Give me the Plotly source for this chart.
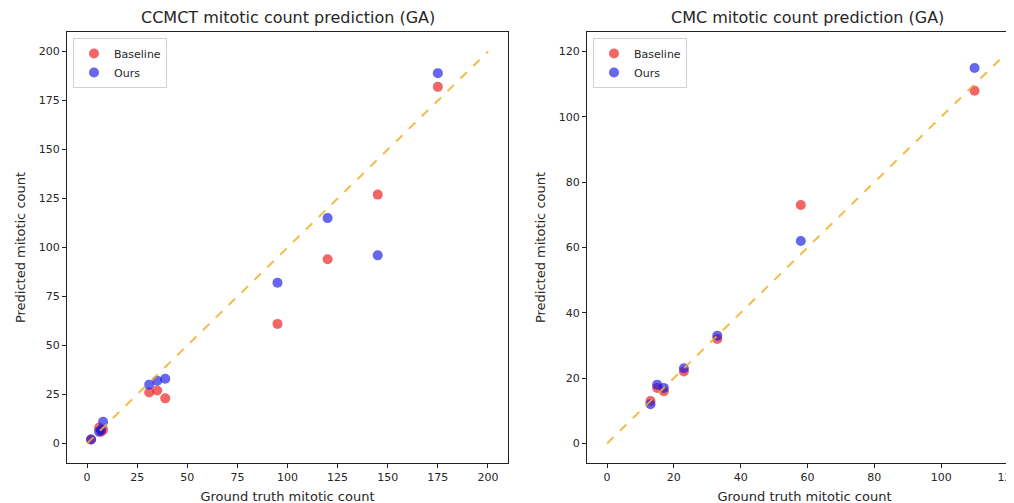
import plotly.graph_objects as go

# ---- Data ----
ccmct_truth = [2, 6, 7, 8, 31, 35, 39, 95, 120, 145, 175]
ccmct_baseline = [2, 8, 6, 7, 26, 27, 23, 61, 94, 127, 182]
ccmct_ours = [2, 6, 7, 11, 30, 32, 33, 82, 115, 96, 189]
ccmct_identity = [0, 200]

cmc_truth = [13, 15, 17, 23, 33, 58, 110]
cmc_baseline = [13, 17, 16, 22, 32, 73, 108]
cmc_ours = [12, 18, 17, 23, 33, 62, 115]
cmc_identity = [0, 120]

left_ticks = [0, 25, 50, 75, 100, 125, 150, 175, 200]
right_ticks = [0, 20, 40, 60, 80, 100, 120]

titles = ["CCMCT mitotic count prediction (GA)", "CMC mitotic count prediction (GA)"]
xlabel = "Ground truth mitotic count"
ylabel = "Predicted mitotic count"

RED = "rgba(235,20,20,0.65)"
BLUE = "rgba(20,20,230,0.65)"
ORANGE = "rgba(240,175,45,0.85)"
FONT = "DejaVu Sans"
TXT = "#262626"

fig = go.Figure()

def add_panel(xa, ya, truth, base, ours, ident, legend):
    fig.add_trace(go.Scatter(x=truth, y=base, mode="markers", name="Baseline",
                             marker=dict(color=RED, size=10, line=dict(width=0)),
                             xaxis=xa, yaxis=ya, legend=legend))
    fig.add_trace(go.Scatter(x=truth, y=ours, mode="markers", name="Ours",
                             marker=dict(color=BLUE, size=10, line=dict(width=0)),
                             xaxis=xa, yaxis=ya, legend=legend))
    fig.add_trace(go.Scatter(x=ident, y=ident, mode="lines", showlegend=False,
                             line=dict(color=ORANGE, width=2, dash="dash"),
                             xaxis=xa, yaxis=ya))

add_panel("x", "y", ccmct_truth, ccmct_baseline, ccmct_ours, ccmct_identity, "legend")
add_panel("x2", "y2", cmc_truth, cmc_baseline, cmc_ours, cmc_identity, "legend2")

W, H = 1014, 503
OFF = 8  # page body margin offset
ytop, ybot = 32 - OFF, 463 - OFF
ydom = [(H - ybot) / H, (H - ytop) / H]

# right panel: -6..126 spans 441px; figure right edge sits at page px W+OFF
right_px_per_unit = 441 / 132
right_xmax = -6 + (W + OFF - 587) / right_px_per_unit

axis_common = dict(showgrid=False, zeroline=False, showline=True, mirror=True,
                   linecolor="#222", linewidth=1, ticks="outside", ticklen=4,
                   tickcolor="#222", automargin=False,
                   tickfont=dict(family=FONT, size=11, color=TXT),
                   title_font=dict(family=FONT, size=13, color=TXT))

legend_common = dict(xanchor="left", yanchor="top",
                     bgcolor="rgba(255,255,255,0.8)", bordercolor="#d0d0d0", borderwidth=1,
                     font=dict(family=FONT, size=11, color=TXT), itemwidth=30,
                     tracegroupgap=0)

fig.update_layout(
    width=W, height=H,
    margin=dict(l=0, r=0, t=0, b=0),
    paper_bgcolor="white", plot_bgcolor="white",
    font=dict(family=FONT, size=11, color=TXT),
    xaxis=dict(domain=[(67 - OFF) / W, (508 - OFF) / W], range=[-10, 210], tickvals=left_ticks,
               title=dict(text=xlabel, standoff=8), anchor="y", **axis_common),
    yaxis=dict(domain=ydom, range=[-10, 210], tickvals=left_ticks,
               title=dict(text=ylabel, standoff=10), anchor="x", **axis_common),
    xaxis2=dict(domain=[(587 - OFF) / W, 1.0], range=[-6, right_xmax], tickvals=right_ticks,
                title=dict(text=xlabel, standoff=8), anchor="y2", **axis_common),
    yaxis2=dict(domain=ydom, range=[-6, 126], tickvals=right_ticks,
                title=dict(text=ylabel, standoff=10), anchor="x2", **axis_common),
    legend=dict(x=(73 - OFF) / W, y=(H - 38 + OFF) / H, **legend_common),
    legend2=dict(x=(593 - OFF) / W, y=(H - 38 + OFF) / H, **legend_common),
    annotations=[
        dict(text=titles[0], x=((67 + 508) / 2 - OFF) / W, y=(H - 17 + OFF) / H,
             xref="paper", yref="paper", showarrow=False,
             font=dict(family=FONT, size=16, color=TXT), xanchor="center", yanchor="middle"),
        dict(text=titles[1], x=((587 + 1028) / 2 - OFF) / W, y=(H - 17 + OFF) / H,
             xref="paper", yref="paper", showarrow=False,
             font=dict(family=FONT, size=16, color=TXT), xanchor="center", yanchor="middle"),
    ],
)

fig.write_html("out.html")
